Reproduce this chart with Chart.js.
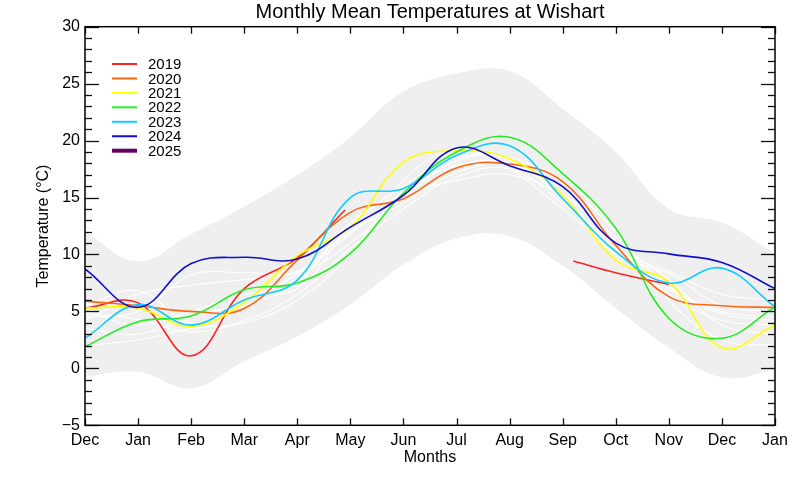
<!DOCTYPE html>
<html>
<head>
<meta charset="utf-8">
<script src="https://cdn.jsdelivr.net/npm/chart.js@4/dist/chart.umd.min.js"></script>
<style>
  html, body { margin: 0; padding: 0; background: #fff; }
  #wrap { width: 800px; height: 480px; position: relative; }
</style>
</head>
<body>
<div id="wrap"><canvas id="c" width="800" height="480"></canvas></div>
<script>
// ---------- data ----------
const monthLabels = ['Dec','Jan','Feb','Mar','Apr','May','Jun','Jul','Aug','Sep','Oct','Nov','Dec','Jan'];
const monthPos = [0,1,2,3,4,5,6,7,8,9,10,11,12,13];

const bandUpper = [12.0, 9.4, 11.8, 14.2, 17.0, 20.3, 24.3, 25.9, 26.1, 22.8, 19.0, 14.0, 12.8, 10.1];
const bandLower = [-0.7, -0.3, -1.75, 0.6, 2.8, 5.6, 9.1, 11.4, 11.6, 9.0, 5.3, 1.8, -0.8, -0.15];

// earlier years (white lines)
const past1 = [4.8, 4.3, 3.2, 4.2, 6.5, 10.5, 14.0, 16.8, 17.5, 14.5, 10.8, 6.5, 4.2, 3.8];
const past2 = [4.2, 6.5, 7.3, 7.8, 8.5, 11.8, 15.5, 17.8, 18.0, 15.3, 11.5, 7.2, 5.0, 4.5];
const past3 = [5.0, 3.8, 5.0, 6.5, 7.0, 12.5, 16.0, 18.5, 18.3, 14.8, 10.0, 8.3, 5.5, 5.0];
const past4 = [3.5, 3.0, 4.5, 5.8, 8.3, 12.0, 14.5, 17.2, 17.9, 15.8, 11.2, 7.8, 3.8, 3.0];
const past5 = [4.5, 5.0, 8.2, 8.4, 8.4, 11.0, 15.0, 18.2, 18.5, 16.2, 12.0, 6.0, 2.5, 2.0];
const past6 = [2.0, 2.5, 3.5, 4.0, 6.0, 10.0, 16.5, 19.2, 17.5, 14.0, 10.5, 8.5, 6.5, 6.0];
const past7 = [5.5, 6.8, 4.0, 5.5, 7.5, 12.8, 15.2, 16.5, 17.0, 15.0, 10.2, 7.0, 4.8, 4.2];

const x2019 = [0, 1, 2, 3, 4, 4.9, 7, 9.2, 10, 11];
const t2019 = [5.3, 5.75, 1.1, 7.0, 9.7, 13.9, null, 9.43, 8.4, 7.38];
const t2020 = [5.9, 5.5, 5.0, 5.25, 9.5, 13.7, 14.9, 17.6, 17.95, 16.4, 10.8, 6.3, 5.5, 5.35];
const t2021 = [5.3, 5.3, 3.7, 5.8, 9.9, 12.4, 18.1, 19.1, 18.4, 15.2, 9.5, 7.6, 1.8, 3.8];
const t2022 = [1.9, 4.1, 4.6, 6.9, 7.5, 10.1, 15.4, 19.0, 20.3, 17.1, 12.3, 4.4, 2.65, 5.4];
const t2023 = [2.65, 5.6, 3.8, 6.0, 7.75, 15.0, 15.8, 18.7, 19.55, 14.9, 10.25, 7.5, 8.8, 5.4];
const t2024 = [8.73, 5.36, 9.2, 9.75, 9.6, 12.4, 15.2, 19.35, 17.8, 15.95, 11.0, 10.05, 9.3, 7.0];
const t2025 = [];

const yearLabels = ['2019','2020','2021','2022','2023','2024','2025'];
const yearColors = ['#ff2222','#ff6611','#ffff00','#22ee22','#11ccff','#1111cc','#660066'];
const yearWidths = [1.6, 1.6, 1.6, 1.6, 1.6, 1.6, 4];

const yMin = -5, yMax = 30;
const FONT = "'Liberation Sans', Arial, Helvetica, sans-serif";

// ---------- build ----------
const pts = (xs, ys) => ys.map((v, i) => ({x: xs[i], y: v}));

const datasets = [];
datasets.push({ label: 'upper', data: pts(monthPos, bandUpper), borderWidth: 0, pointRadius: 0,
  backgroundColor: 'rgb(239,239,239)', fill: 1, tension: 0.4, order: 100, isBand: true });
datasets.push({ label: 'lower', data: pts(monthPos, bandLower), borderWidth: 0, pointRadius: 0,
  backgroundColor: 'rgb(239,239,239)', fill: false, tension: 0.4, order: 101, isBand: true });

[past1, past2, past3, past4, past5, past6, past7].forEach((p, i) => {
  datasets.push({ label: 'past' + i, data: pts(monthPos, p), borderColor: 'rgba(255,255,255,0.95)',
    borderWidth: 1.1, pointRadius: 0, fill: false, tension: 0.4, order: 50 });
});

const yearData = [pts(x2019, t2019), pts(monthPos, t2020), pts(monthPos, t2021), pts(monthPos, t2022),
  pts(monthPos, t2023), pts(monthPos, t2024), pts(monthPos, t2025)];
yearData.forEach((d, i) => {
  datasets.push({ label: yearLabels[i], data: d, borderColor: yearColors[i], borderWidth: yearWidths[i],
    pointRadius: 0, fill: false, tension: 0.4, spanGaps: false, order: 10 - i, isYear: true });
});

const framePlugin = {
  id: 'frame',
  afterDatasetsDraw(chart) {
    const {ctx, chartArea: {left, right, top, bottom}, scales: {x, y}} = chart;
    ctx.save();
    ctx.strokeStyle = '#111';
    ctx.lineWidth = 1.3;
    const line = (a, b, c, d) => { ctx.beginPath(); ctx.moveTo(a, b); ctx.lineTo(c, d); ctx.stroke(); };
    for (let v = yMin; v <= yMax; v += 1) {
      const py = Math.round(y.getPixelForValue(v)) + 0.5;
      const len = (v % 5 === 0) ? 14 : 7;
      line(left, py, left + len, py);
      line(right, py, right - len, py);
    }
    monthPos.forEach(m => {
      const px = Math.round(x.getPixelForValue(m)) + 0.5;
      line(px, bottom, px, bottom - 7);
      line(px, top, px, top + 7);
    });
    ctx.lineWidth = 1.5;
    ctx.strokeStyle = '#000';
    ctx.strokeRect(left, top, right - left, bottom - top);

    // legend
    const yearSets = chart.data.datasets.filter(d => d.isYear);
    ctx.font = '15px ' + FONT;
    ctx.fillStyle = '#000';
    ctx.textBaseline = 'middle';
    ctx.textAlign = 'left';
    yearSets.forEach((d, i) => {
      const ly = 64 + i * 14.45;
      ctx.strokeStyle = d.borderColor;
      ctx.lineWidth = d.borderWidth === 4 ? 4 : 2;
      line(112, ly, 137, ly);
      ctx.fillText(d.label, 148, ly + 1);
    });

    // title
    ctx.font = '20px ' + FONT;
    ctx.textAlign = 'center';
    ctx.textBaseline = 'alphabetic';
    ctx.fillText('Monthly Mean Temperatures at Wishart', (left + right) / 2, 18);
    ctx.restore();
  }
};

new Chart(document.getElementById('c'), {
  type: 'line',
  data: { datasets },
  options: {
    responsive: false,
    animation: false,
    events: [],
    layout: { padding: { top: 26.7, right: 25, bottom: 0, left: 0 } },
    plugins: { legend: { display: false }, tooltip: { enabled: false }, title: { display: false },
      filler: { propagate: false } },
    elements: { line: { capBezierPoints: true } },
    scales: {
      x: {
        type: 'linear', min: 0, max: 13,
        grid: { display: false, drawTicks: false }, border: { display: false },
        afterBuildTicks: (s) => { s.ticks = monthPos.map(v => ({ value: v })); },
        afterFit: (s) => { s.height = 54.7; },
        ticks: { autoSkip: false, maxRotation: 0, padding: 6, color: '#000',
          font: { family: FONT, size: 16 }, callback: (v) => monthLabels[v] },
        title: { display: true, text: 'Months', color: '#000', font: { family: FONT, size: 16 },
          padding: { top: 0, bottom: 13 } }
      },
      y: {
        type: 'linear', min: yMin, max: yMax,
        grid: { display: false, drawTicks: false }, border: { display: false },
        afterFit: (s) => { s.width = 85; },
        ticks: { stepSize: 5, padding: 5, color: '#000', font: { family: FONT, size: 16 },
          callback: (v) => v < 0 ? '\u2212' + Math.abs(v) : String(v) },
        title: { display: true, text: 'Temperature (\u00B0C)', color: '#000',
          font: { family: FONT, size: 16 }, padding: { top: 34, bottom: 0 } }
      }
    }
  },
  plugins: [framePlugin]
});
</script>
</body>
</html>
